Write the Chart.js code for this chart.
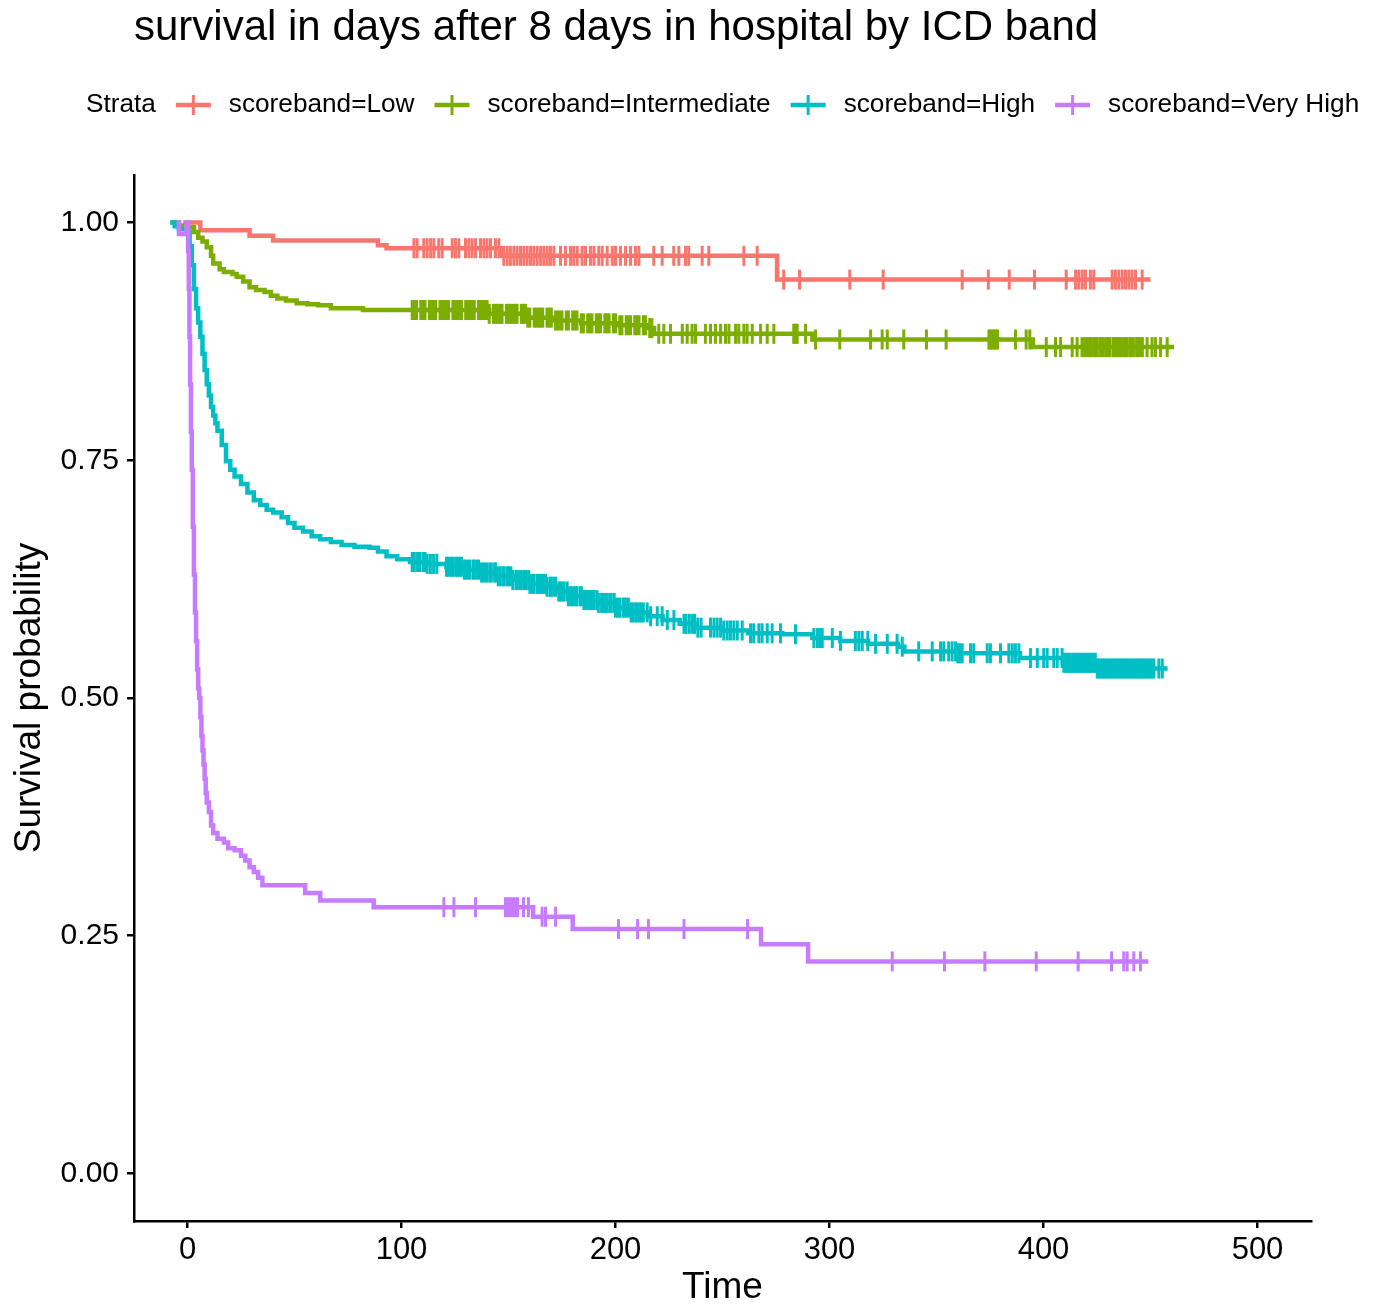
<!DOCTYPE html>
<html>
<head>
<meta charset="utf-8">
<script src="https://cdn.jsdelivr.net/npm/chart.js@4.4.1/dist/chart.umd.min.js"></script>
<style>
  body { margin: 0; background: #fff; }
  #wrap { width: 1376px; height: 1304px; }
</style>
</head>
<body>
<div id="wrap"><canvas id="grafico" width="1376" height="1304"></canvas></div>
<script>
const titulo = 'survival in days after 8 days in hospital by ICD band';
const estratos = ['scoreband=Low', 'scoreband=Intermediate', 'scoreband=High', 'scoreband=Very High'];
const colores = ['#F8766D', '#7CAE00', '#00BFC4', '#C77CFF'];
const xTicks = [0, 100, 200, 300, 400, 500];
const yTicks = [0, 0.25, 0.5, 0.75, 1];

// curvas escalonadas (tiempo del evento, supervivencia despues del evento)
const tiempoLow = [-2, 6, 29, 40, 89, 93, 147, 275.5, 450];
const survLow   = [1.0, 0.992, 0.986, 0.981, 0.976, 0.973, 0.965, 0.940, 0.940];

const tiempoInter = [-8, -4, 0, 3, 5, 7, 9, 11, 12, 15, 17, 21, 23, 26, 29, 32, 36, 39, 42, 46, 51, 56, 61, 67, 82, 141, 159, 171, 184, 201, 215, 218, 292, 395, 461];
const survInter   = [1.0, 0.997, 0.995, 0.99, 0.984, 0.98, 0.974, 0.965, 0.957, 0.951, 0.948, 0.946, 0.943, 0.938, 0.932, 0.929, 0.927, 0.923, 0.920, 0.918, 0.915, 0.914, 0.913, 0.910, 0.908, 0.904, 0.900, 0.897, 0.894, 0.892, 0.889, 0.883, 0.877, 0.869, 0.869];

const tiempoHigh = [-8, -6, -4, 0.3, 1, 2, 3, 4, 5, 6, 7, 8, 9, 10, 11, 12, 13, 14, 16, 18, 20, 22, 25, 28, 31, 34, 37, 40, 44, 47, 50, 54, 58, 62, 67, 72, 78, 85, 89, 93, 98, 104, 112, 121, 129, 137, 145, 152, 160, 168, 173, 178, 185, 192, 200, 207, 215, 222, 230, 238, 250, 262, 278, 292, 305, 318, 332, 335, 360, 389, 409, 425, 458];
const survHigh   = [1.0, 0.996, 0.993, 0.99, 0.975, 0.955, 0.93, 0.91, 0.895, 0.88, 0.862, 0.845, 0.83, 0.818, 0.806, 0.797, 0.789, 0.781, 0.766, 0.749, 0.740, 0.733, 0.725, 0.716, 0.708, 0.703, 0.698, 0.695, 0.690, 0.684, 0.679, 0.675, 0.670, 0.667, 0.664, 0.661, 0.659, 0.658, 0.654, 0.649, 0.646, 0.643, 0.641, 0.638, 0.635, 0.632, 0.628, 0.624, 0.620, 0.617, 0.612, 0.607, 0.603, 0.600, 0.595, 0.590, 0.586, 0.582, 0.578, 0.574, 0.571, 0.568, 0.567, 0.563, 0.560, 0.557, 0.554, 0.549, 0.547, 0.542, 0.537, 0.531, 0.531];

const tiempoVH = [-5, -4, -0.5, 0.3, 0.6, 0.9, 1.2, 1.6, 2, 2.5, 3, 3.5, 4, 4.5, 5, 5.5, 6, 6.5, 7, 7.5, 8, 8.5, 9, 10, 11, 12, 14, 17, 19, 22, 25, 27, 29, 31, 33, 35, 55, 62, 87, 161.5, 180, 268, 290, 449];
const survVH   = [1.0, 0.988, 1.0, 0.97, 0.93, 0.88, 0.83, 0.78, 0.74, 0.68, 0.63, 0.59, 0.56, 0.53, 0.51, 0.50, 0.48, 0.46, 0.445, 0.43, 0.415, 0.40, 0.39, 0.38, 0.366, 0.358, 0.352, 0.348, 0.342, 0.340, 0.334, 0.329, 0.322, 0.317, 0.311, 0.303, 0.295, 0.287, 0.280, 0.270, 0.257, 0.241, 0.223, 0.223];

// tiempos censurados (marcas +)
const censLow = [105.8, 107.3, 110.4, 112, 113.6, 115.1, 117.4, 119, 123.7, 125.2, 126.8, 129.9, 131.5, 133, 134.6, 136.9, 138.5, 140, 141.6, 143.9, 145.5, 147.8, 149.4, 150.9, 152.5, 154, 155.6, 157.2, 158.7, 160.3, 161.8, 163.4, 165, 166.5, 168.1, 169.6, 171.2, 174.3, 176.6, 179, 180.5, 182.1, 184.4, 186, 188.3, 189.9, 192.2, 193.8, 196.1, 198.5, 200, 202.3, 204.7, 207, 209.3, 210.9, 217.9, 221.8, 227.2, 229.6, 232.7, 234.2, 240.5, 243.6, 260, 266.2, 278.6, 286, 309.5, 325.1, 362, 374.2, 384, 395.8, 410.6, 415, 416.5, 418.1, 419.6, 421.9, 423.5, 432.1, 433.6, 435.2, 436.8, 438.3, 439.9, 441.4, 443, 446.1];

const censInter = [105, 106, 107, 109, 110, 111, 113, 114, 115, 116, 118, 119, 120, 121, 122, 124, 125, 126, 127, 128, 130, 131, 132, 133, 134, 136, 137, 138, 139, 140, 141, 143, 144, 145, 146, 147, 149, 150, 151, 152, 153, 154, 156, 157, 158, 159, 160, 162, 163, 164, 165, 166, 168, 169, 170, 172, 173, 174, 175, 177, 178, 180, 181, 182, 184, 185, 187, 188, 189, 191, 192, 193, 195, 196, 197, 199, 200, 202, 203, 205, 206, 207, 209, 210, 211, 213, 214, 216, 217, 220.2, 222.6, 225.7, 231.2, 233.5, 235.8, 237.4, 242, 244.4, 246.7, 249.1, 251.4, 253, 256.1, 257.6, 260, 261.5, 263.9, 267.8, 270.9, 274, 283.3, 284.1, 284.9, 288.8, 293.5, 304.8, 319.2, 324.6, 327, 334.7, 345.3, 354.5, 374.5, 375.3, 376.1, 376.9, 377.7, 378.5, 386.9, 391.9, 393.6, 401.3, 405.6, 408, 413.4, 415.7, 418, 419.2, 420.1, 421.3, 422, 423.4, 424.2, 425, 426.3, 427.1, 428, 429.4, 430.2, 431, 432.5, 433.3, 434.1, 435.2, 436, 437.4, 438.1, 439, 440.3, 441.2, 442, 443.5, 444.1, 445, 446.2, 448.4, 450.7, 452.3, 454.7, 457.8];

const censHigh = [105, 106, 107.5, 108.5, 110, 111, 112, 113.5, 115, 116.5, 121, 122, 123.2, 124, 125.3, 126, 127.1, 128, 129.4, 130, 131.2, 132, 133.5, 134, 135.2, 136, 137.4, 138, 139.1, 140, 141.3, 142, 143.5, 144, 145.2, 146, 147.3, 148, 149.4, 150, 151.1, 152, 153.5, 154, 155.2, 156, 157.3, 158, 159.4, 160, 161.2, 162, 163.5, 164, 165.1, 166, 167.3, 168, 169.4, 170, 171.2, 172, 173.5, 174, 175.1, 176, 177.4, 178, 179.2, 180, 181.3, 182, 183.5, 184, 185.2, 186, 187.4, 188, 189.1, 190, 191.3, 192, 193.5, 194, 195.2, 196, 197.3, 198, 199.4, 200, 201.2, 202, 203.5, 204, 205.1, 206, 207.3, 208, 209.4, 210, 211.2, 212, 213, 214.8, 216.4, 219.5, 221.8, 224.2, 227.3, 232, 233, 234.5, 236, 237, 238.5, 240, 244.4, 246, 247.5, 249.1, 250.6, 252.2, 253.7, 255.3, 256.9, 259.2, 263.1, 264.6, 267, 268.5, 270.9, 273.2, 277.1, 284.1, 292.7, 294.3, 295.5, 296.6, 301.3, 305.1, 312.1, 313.7, 315.3, 317.9, 321.5, 327, 331.6, 334, 341.7, 348, 351.9, 353.4, 355.7, 357.3, 358.9, 360, 361, 362, 365.9, 367.4, 373.7, 375.2, 379.9, 383.8, 385.4, 386.9, 388.5, 393.9, 397.1, 400.1, 401.7, 404.8, 406.4, 408.7, 409.5, 410.4, 411.2, 412, 413.1, 414, 414.8, 415.7, 416.5, 417.4, 418.2, 419.1, 420, 420.8, 421.7, 422.5, 423.4, 424.2, 425.1, 425.9, 426.8, 427.6, 428.5, 429.3, 430.2, 431, 431.9, 432.7, 433.6, 434.4, 435.3, 436.1, 437, 437.8, 438.7, 439.5, 440.4, 441.2, 442.1, 442.9, 443.8, 444.6, 445.5, 446.3, 447.2, 448, 448.9, 449.7, 450.6, 451.6, 453.9, 455.5];

const censVH = [119.8, 124.5, 134.6, 148.6, 150, 151.4, 152.8, 154.2, 157, 159.3, 165.7, 167.3, 172, 201.4, 210.3, 215.4, 232, 261.7, 329.3, 353.7, 372.6, 396.6, 416.2, 431.8, 437.5, 439.1, 442.2, 445.3];

const tiempos = [tiempoLow, tiempoInter, tiempoHigh, tiempoVH];
const supervivencias = [survLow, survInter, survHigh, survVH];
const censuras = [censLow, censInter, censHigh, censVH];

const fuente = "'Liberation Sans', Arial, Helvetica, sans-serif";
Chart.defaults.font.family = fuente;
Chart.defaults.color = '#000';

// valor de la curva en el tiempo t (funcion escalonada)
function survAt(ts, ss, t) {
    let v = ss[0];
    for (let i = 0; i < ts.length; i++) {
        if (ts[i] <= t) v = ss[i];
        else break;
    }
    return v;
}

const datasets = [];
estratos.forEach((nombre, i) => {
    datasets.push({
        label: nombre,
        data: tiempos[i].map((t, k) => ({ x: t, y: supervivencias[i][k] })),
        borderColor: colores[i],
        backgroundColor: colores[i],
        borderWidth: 4.5,
        stepped: true,
        pointRadius: 0,
        fill: false,
        order: 10 - i
    });
});
estratos.forEach((nombre, i) => {
    datasets.push({
        label: nombre + ' censor',
        data: censuras[i].map(t => ({ x: t, y: survAt(tiempos[i], supervivencias[i], t) })),
        showLine: false,
        borderColor: colores[i],
        backgroundColor: colores[i],
        pointStyle: 'line',
        rotation: 90,
        pointRadius: 10,
        pointBorderWidth: 3,
        order: 5 - i
    });
});

// leyenda en una fila con el titulo "Strata" al lado
const leyendaStrata = {
    id: 'leyendaStrata',
    afterDraw(chart) {
        const c = chart.ctx;
        c.save();
        c.font = '26.2px ' + fuente;
        c.textBaseline = 'middle';
        c.fillStyle = '#000';
        const y = 105;
        let x = 86;
        c.fillText('Strata', x, y);
        x += c.measureText('Strata').width + 20;
        estratos.forEach((nombre, i) => {
            c.strokeStyle = colores[i];
            c.lineWidth = 4.5;
            c.beginPath();
            c.moveTo(x, y);
            c.lineTo(x + 35, y);
            c.stroke();
            c.lineWidth = 3;
            c.beginPath();
            c.moveTo(x + 17.5, y - 10);
            c.lineTo(x + 17.5, y + 10);
            c.stroke();
            x += 53;
            c.fillStyle = '#000';
            c.fillText(nombre, x, y);
            x += c.measureText(nombre).width + 20;
        });
        c.restore();
    }
};

const ctx = document.getElementById('grafico').getContext('2d');
const grafico = new Chart(ctx, {
    type: 'line',
    data: { datasets: datasets },
    options: {
        responsive: false,
        animation: false,
        events: [],
        layout: { padding: { top: 0, right: 65, bottom: 0, left: 0 } },
        plugins: {
            legend: { display: false },
            tooltip: { enabled: false },
            title: {
                display: true,
                text: titulo,
                align: 'start',
                fullSize: false,
                color: '#000',
                font: { size: 42, weight: 'normal', lineHeight: 1.2 },
                padding: { top: 3, bottom: 121.6 }
            }
        },
        scales: {
            x: {
                type: 'linear',
                min: -25,
                max: 525,
                afterBuildTicks: s => { s.ticks = xTicks.map(v => ({ value: v })); },
                afterFit: s => { s.height = 83; },
                ticks: {
                    font: { size: 31 },
                    color: '#000',
                    padding: 4,
                    maxRotation: 0,
                    callback: v => String(v)
                },
                grid: { display: true, drawOnChartArea: false, drawTicks: true, tickLength: 7, color: '#000', lineWidth: 2.5 },
                border: { display: true, color: '#000', width: 2.5 },
                title: { display: true, text: 'Time', color: '#000', font: { size: 37, lineHeight: 0.9 }, padding: { top: 0, bottom: 0 } }
            },
            y: {
                type: 'linear',
                min: -0.05,
                max: 1.05,
                afterBuildTicks: s => { s.ticks = yTicks.map(v => ({ value: v })); },
                afterFit: s => { s.width = 134; },
                ticks: {
                    font: { size: 30 },
                    color: '#000',
                    padding: 8,
                    callback: v => Number(v).toFixed(2)
                },
                grid: { display: true, drawOnChartArea: false, drawTicks: true, tickLength: 7, color: '#000', lineWidth: 2.5 },
                border: { display: true, color: '#000', width: 2.5 },
                title: { display: true, text: 'Survival probability', color: '#000', font: { size: 37, lineHeight: 1 }, padding: { top: 11.5, bottom: 0 } }
            }
        }
    },
    plugins: [leyendaStrata]
});
</script>
</body>
</html>
